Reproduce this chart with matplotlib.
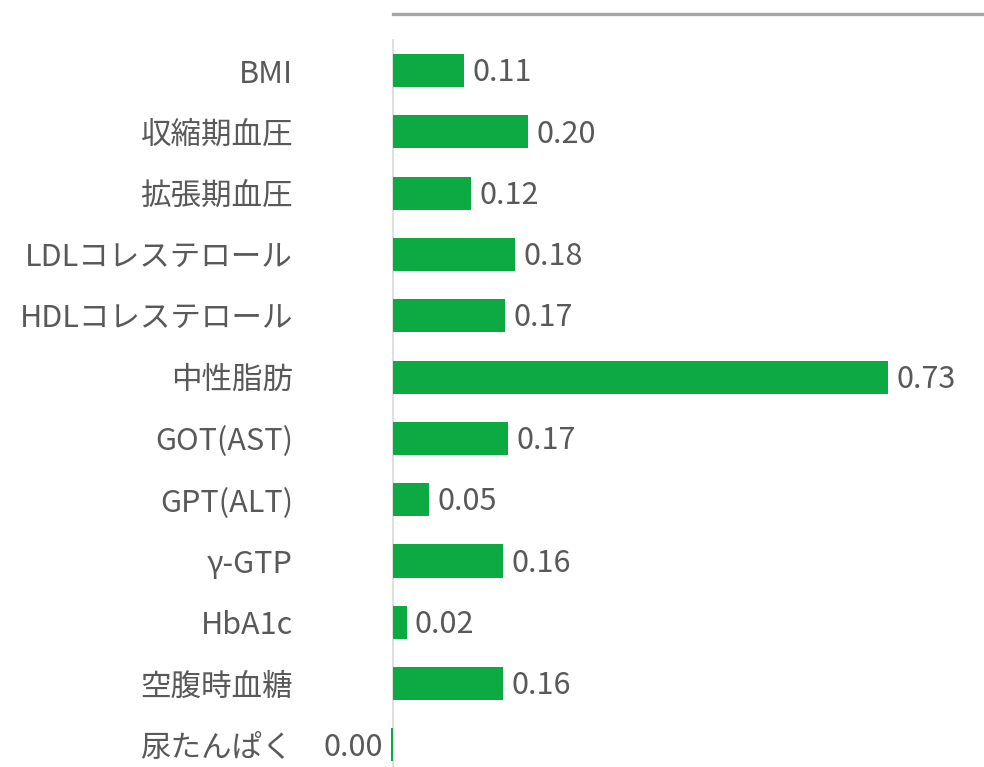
import matplotlib
matplotlib.use("Agg")
import matplotlib.pyplot as plt
from matplotlib.lines import Line2D

plt.rcParams['font.family'] = ['Noto Sans CJK JP', 'DejaVu Sans']

# data (top to bottom)
categories = ["BMI", "収縮期血圧", "拡張期血圧", "LDLコレステロール", "HDLコレステロール",
              "中性脂肪", "GOT(AST)", "GPT(ALT)", "γ-GTP", "HbA1c", "空腹時血糖", "尿たんぱく"]
values = [0.105, 0.199, 0.115, 0.18, 0.165, 0.73, 0.17, 0.053, 0.162, 0.02, 0.162, -0.003]
value_labels = ["0.11", "0.20", "0.12", "0.18", "0.17", "0.73", "0.17", "0.05", "0.16", "0.02", "0.16", "0.00"]

bar_color = "#0DAA43"
text_color = "#595959"
fs = 22

W, H = 984, 767
fig = plt.figure(figsize=(W / 100, H / 100), dpi=100)
ax = fig.add_axes([393 / W, 0, 1 - 393 / W, (767 - 40) / H])

ypos = list(range(len(categories)))
bars = ax.barh(ypos, values, height=0.54, color=bar_color)
for b in bars:
    b.set_clip_on(False)

ax.set_xlim(0, 591 / 678)
ax.set_ylim(11.36, -0.5)

ax.set_yticks(ypos)
ax.set_yticklabels(categories, fontsize=fs, color=text_color)
ax.tick_params(axis="y", length=0, pad=72)
ax.set_xticks([])

for s in ["top", "right", "bottom"]:
    ax.spines[s].set_visible(False)
ax.spines["left"].set_color("#D9D9D9")
ax.spines["left"].set_linewidth(1.2)
ax.spines["left"].set_zorder(0.5)

for y, v, lab in zip(ypos, values, value_labels):
    if v >= 0:
        ax.annotate(lab, (v, y), xytext=(6, -1.5), textcoords="offset points",
                    ha="left", va="center", fontsize=fs, color=text_color,
                    annotation_clip=False)
    else:
        ax.annotate(lab, (v, y), xytext=(-6, -1.5), textcoords="offset points",
                    ha="right", va="center", fontsize=fs, color=text_color,
                    annotation_clip=False)

# top border line
fig.add_artist(Line2D([393 / W, 1.0], [1 - 14 / H, 1 - 14 / H],
                      transform=fig.transFigure, color="#A6A6A6", linewidth=2.4))

fig.savefig("out.png", dpi=100)
